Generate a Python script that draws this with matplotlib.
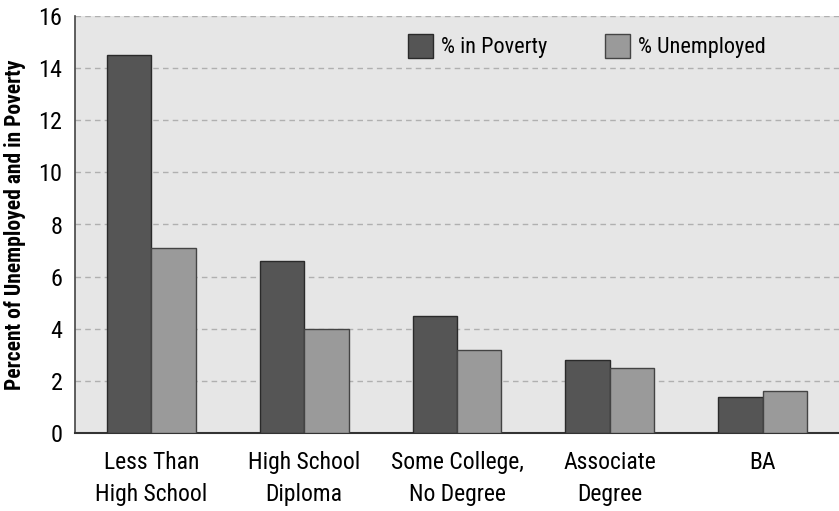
import matplotlib
matplotlib.use("Agg")
import matplotlib.pyplot as plt
import numpy as np
from matplotlib import font_manager
from matplotlib.font_manager import FontProperties

categories = ["Less Than\nHigh School", "High School\nDiploma", "Some College,\nNo Degree",
              "Associate\nDegree", "BA"]
poverty = [14.5, 6.6, 4.5, 2.8, 1.4]
unemployed = [7.1, 4.0, 3.2, 2.5, 1.6]
yticks = [0, 2, 4, 6, 8, 10, 12, 14, 16]


def find_font(bold):
    fl = font_manager.fontManager.ttflist
    prefs = ["Liberation Sans Narrow", "Roboto Condensed", "Open Sans Condensed",
             "Noto Sans", "DejaVu Sans", "Lato", "Inter"]
    for pref in prefs:
        for f in fl:
            fname = f.fname.lower()
            narrow = ("narrow" in fname or "condensed" in fname or "cond" in f.name.lower()
                      or "narrow" in f.name.lower() or f.stretch in ("condensed", "semi-condensed"))
            if not narrow or "extra" in fname or "semi" in fname or "ultra" in fname:
                continue
            if not (f.name.startswith(pref.split()[0]) and pref.split()[0] in f.name):
                continue
            if f.style != "normal":
                continue
            w = f.weight if isinstance(f.weight, int) else (700 if f.weight == "bold" else 400)
            if bold and w == 700:
                return f.fname
            if not bold and w == 400:
                return f.fname
    return None


reg = find_font(False)
bld = find_font(True)
if reg:
    fp = lambda s: FontProperties(fname=reg, size=s)
    scale = 1.0
else:
    fp = lambda s: FontProperties(family="Liberation Sans", size=s)
    scale = 0.9
if bld:
    fpb = lambda s: FontProperties(fname=bld, size=s)
else:
    fpb = lambda s: FontProperties(family="Liberation Sans", weight="bold", size=s)

fig = plt.figure(figsize=(8.39, 5.11), dpi=100)
ax = fig.add_axes([75/839, 1-433/511, 1-75/839, (433-16)/511])
ax.set_facecolor("#e6e6e6")

x = np.arange(len(categories))
w = 0.29
ax.bar(x - w/2, poverty, w, color="#555555", edgecolor="#2a2a2a", linewidth=1.0,
       label="% in Poverty", zorder=3)
ax.bar(x + w/2, unemployed, w, color="#9a9a9a", edgecolor="#444444", linewidth=1.0,
       label="% Unemployed", zorder=3)

ax.set_xlim(-0.5, len(categories) - 0.5)
ax.set_ylim(0, 16)
ax.set_yticks(yticks)
ax.set_yticklabels([str(v) for v in yticks], fontproperties=fp(17.5*scale))
ax.set_xticks(x)
ax.set_xticklabels(categories, fontproperties=fp(17*scale), linespacing=1.5)
ax.tick_params(axis='both', length=0)
ax.tick_params(axis='y', pad=9)
ax.tick_params(axis='x', pad=13)
ax.yaxis.grid(True, linestyle=(0, (4, 3)), color="#b0b0b0", linewidth=1.0, zorder=0)
for s in ["top", "right"]:
    ax.spines[s].set_visible(False)
ax.spines["left"].set_color("#444444")
ax.spines["bottom"].set_color("#333333")
ax.spines["bottom"].set_linewidth(1.5)
ax.spines["left"].set_linewidth(1.2)

ax.set_ylabel("Percent of Unemployed and in Poverty", fontproperties=fpb(15.5*scale), labelpad=9)

ax.legend(loc="upper left", bbox_to_anchor=(0.41, 1.005), ncol=2, frameon=False,
          prop=fp(16*scale), handlelength=1.12, handleheight=1.3, columnspacing=2.6,
          handletextpad=0.35)

fig.savefig("out.png", dpi=100, facecolor="white")
